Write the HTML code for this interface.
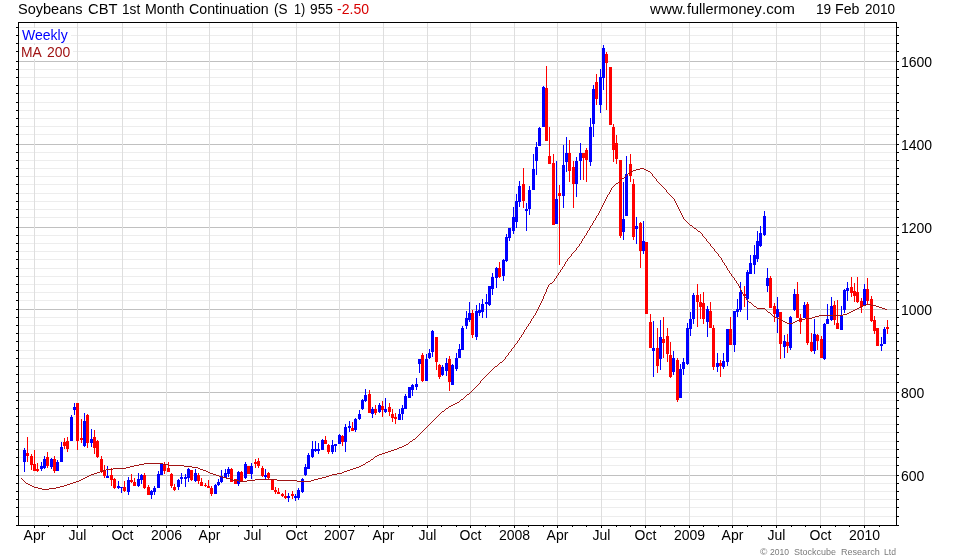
<!DOCTYPE html>
<html><head><meta charset="utf-8"><title>Soybeans CBT 1st Month Continuation</title>
<style>
html,body{margin:0;padding:0;background:#fff;}
body{width:980px;height:560px;position:relative;overflow:hidden;font-family:"Liberation Sans",Arial,sans-serif;font-size:14px;color:#000;}
.t{position:absolute;white-space:nowrap;line-height:16px;height:16px;}
.c{transform:translateX(-50%);}
svg{position:absolute;left:0;top:0;}
</style></head><body>
<svg width="980" height="560" viewBox="0 0 980 560" shape-rendering="crispEdges">
<path d="M19 27.5H896M19 35.5H896M19 43.5H896M19 51.5H896M19 69.5H896M19 77.5H896M19 85.5H896M19 93.5H896M19 102.5H896M19 110.5H896M19 118.5H896M19 126.5H896M19 134.5H896M19 152.5H896M19 160.5H896M19 168.5H896M19 176.5H896M19 184.5H896M19 193.5H896M19 201.5H896M19 209.5H896M19 217.5H896M19 235.5H896M19 243.5H896M19 251.5H896M19 259.5H896M19 268.5H896M19 276.5H896M19 284.5H896M19 292.5H896M19 300.5H896M19 317.5H896M19 325.5H896M19 333.5H896M19 341.5H896M19 350.5H896M19 358.5H896M19 366.5H896M19 374.5H896M19 382.5H896M19 400.5H896M19 408.5H896M19 416.5H896M19 424.5H896M19 432.5H896M19 441.5H896M19 449.5H896M19 457.5H896M19 465.5H896M19 483.5H896M19 491.5H896M19 499.5H896M19 507.5H896M19 516.5H896" stroke="#ededed" stroke-width="1" fill="none"/>
<path d="M19 61.5H896M19 144.5H896M19 227.5H896M19 309.5H896M19 392.5H896M19 475.5H896" stroke="#c0c0c0" stroke-width="1" fill="none"/>
<path d="M34.5 23V525M77.5 23V525M122.5 23V525M166.5 23V525M209.5 23V525M252.5 23V525M296.5 23V525M339.5 23V525M383.5 23V525M427.5 23V525M470.5 23V525M514.5 23V525M557.5 23V525M601.5 23V525M645.5 23V525M689.5 23V525M732.5 23V525M776.5 23V525M820.5 23V525M864.5 23V525" stroke="#dedede" stroke-width="1" fill="none"/>
<path d="M18.5 22V526M896.5 22V526M18 22.5H897M18 525.5H897" stroke="#000" stroke-width="1" fill="none"/>
<path d="M16 27.5H18M897 27.5H899M16 35.5H18M897 35.5H899M16 43.5H18M897 43.5H899M16 51.5H18M897 51.5H899M16 69.5H18M897 69.5H899M16 77.5H18M897 77.5H899M16 85.5H18M897 85.5H899M16 93.5H18M897 93.5H899M16 102.5H18M897 102.5H899M16 110.5H18M897 110.5H899M16 118.5H18M897 118.5H899M16 126.5H18M897 126.5H899M16 134.5H18M897 134.5H899M16 152.5H18M897 152.5H899M16 160.5H18M897 160.5H899M16 168.5H18M897 168.5H899M16 176.5H18M897 176.5H899M16 184.5H18M897 184.5H899M16 193.5H18M897 193.5H899M16 201.5H18M897 201.5H899M16 209.5H18M897 209.5H899M16 217.5H18M897 217.5H899M16 235.5H18M897 235.5H899M16 243.5H18M897 243.5H899M16 251.5H18M897 251.5H899M16 259.5H18M897 259.5H899M16 268.5H18M897 268.5H899M16 276.5H18M897 276.5H899M16 284.5H18M897 284.5H899M16 292.5H18M897 292.5H899M16 300.5H18M897 300.5H899M16 317.5H18M897 317.5H899M16 325.5H18M897 325.5H899M16 333.5H18M897 333.5H899M16 341.5H18M897 341.5H899M16 350.5H18M897 350.5H899M16 358.5H18M897 358.5H899M16 366.5H18M897 366.5H899M16 374.5H18M897 374.5H899M16 382.5H18M897 382.5H899M16 400.5H18M897 400.5H899M16 408.5H18M897 408.5H899M16 416.5H18M897 416.5H899M16 424.5H18M897 424.5H899M16 432.5H18M897 432.5H899M16 441.5H18M897 441.5H899M16 449.5H18M897 449.5H899M16 457.5H18M897 457.5H899M16 465.5H18M897 465.5H899M16 483.5H18M897 483.5H899M16 491.5H18M897 491.5H899M16 499.5H18M897 499.5H899M16 507.5H18M897 507.5H899M16 516.5H18M897 516.5H899M16 61.5H18M897 61.5H899M16 144.5H18M897 144.5H899M16 227.5H18M897 227.5H899M16 309.5H18M897 309.5H899M16 392.5H18M897 392.5H899M16 475.5H18M897 475.5H899M16 525.5H18M897 525.5H899M34.5 526V528M48.5 526V527M63.5 526V527M77.5 526V528M92.5 526V527M107.5 526V527M122.5 526V528M137.5 526V527M151.5 526V527M166.5 526V528M180.5 526V527M195.5 526V527M209.5 526V528M223.5 526V527M238.5 526V527M252.5 526V528M267.5 526V527M281.5 526V527M296.5 526V528M310.5 526V527M325.5 526V527M339.5 526V528M354.5 526V527M368.5 526V527M383.5 526V528M398.5 526V527M412.5 526V527M427.5 526V528M441.5 526V527M456.5 526V527M470.5 526V528M485.5 526V527M499.5 526V527M514.5 526V528M528.5 526V527M543.5 526V527M557.5 526V528M572.5 526V527M586.5 526V527M601.5 526V528M616.5 526V527M630.5 526V527M645.5 526V528M660.5 526V527M674.5 526V527M689.5 526V528M703.5 526V527M718.5 526V527M732.5 526V528M747.5 526V527M761.5 526V527M776.5 526V528M791.5 526V527M805.5 526V527M820.5 526V528M835.5 526V527M849.5 526V527M864.5 526V528M879.5 526V527" stroke="#000" stroke-width="1" fill="none"/>
<path d="M24 448h1V472h-1zM23 450h3V462h-3zM41 462h1V471h-1zM40 466h3V469h-3zM44 456h1V469h-1zM43 459h3V468h-3zM51 458h1V469h-1zM50 459h3V467h-3zM57 460h1V471h-1zM56 462h3V471h-3zM61 442h1V462h-1zM60 447h3V462h-3zM71 415h1V441h-1zM70 417h3V441h-3zM74 403h1V415h-1zM73 407h3V410h-3zM84 413h1V447h-1zM83 421h3V446h-3zM91 429h1V447h-1zM90 439h3V443h-3zM107 466h1V478h-1zM106 476h3V478h-3zM118 481h1V489h-1zM117 486h3V488h-3zM121 487h1V493h-1zM120 487h3V488h-3zM128 477h1V495h-1zM127 480h3V492h-3zM138 473h1V487h-1zM137 479h3V486h-3zM141 474h1V484h-1zM140 475h3V480h-3zM151 490h1V499h-1zM150 491h3V495h-3zM154 486h1V495h-1zM153 488h3V492h-3zM158 471h1V488h-1zM157 474h3V488h-3zM161 463h1V475h-1zM160 464h3V475h-3zM178 479h1V490h-1zM177 480h3V487h-3zM181 473h1V484h-1zM180 477h3V479h-3zM185 474h1V487h-1zM184 477h3V479h-3zM188 468h1V482h-1zM187 469h3V478h-3zM195 469h1V482h-1zM194 473h3V481h-3zM215 484h1V494h-1zM214 485h3V494h-3zM218 479h1V486h-1zM217 482h3V485h-3zM221 470h1V483h-1zM220 476h3V482h-3zM225 469h1V478h-1zM224 473h3V478h-3zM228 467h1V477h-1zM227 469h3V474h-3zM238 471h1V486h-1zM237 472h3V484h-3zM245 462h1V479h-1zM244 464h3V478h-3zM251 463h1V479h-1zM250 466h3V474h-3zM265 469h1V479h-1zM264 475h3V477h-3zM288 493h1V502h-1zM287 496h3V498h-3zM295 494h1V501h-1zM294 496h3V498h-3zM298 488h1V500h-1zM297 490h3V498h-3zM302 478h1V493h-1zM301 479h3V492h-3zM305 464h1V476h-1zM304 467h3V475h-3zM308 453h1V469h-1zM307 455h3V469h-3zM312 441h1V458h-1zM311 449h3V457h-3zM315 441h1V452h-1zM314 449h3V451h-3zM318 443h1V454h-1zM317 449h3V451h-3zM322 439h1V450h-1zM321 440h3V450h-3zM332 440h1V454h-1zM331 445h3V452h-3zM335 444h1V452h-1zM334 444h3V446h-3zM339 434h1V444h-1zM338 435h3V444h-3zM345 424h1V452h-1zM344 427h3V442h-3zM349 421h1V432h-1zM348 426h3V428h-3zM355 418h1V432h-1zM354 419h3V430h-3zM359 410h1V420h-1zM358 414h3V419h-3zM362 399h1V410h-1zM361 400h3V409h-3zM365 389h1V402h-1zM364 395h3V401h-3zM372 407h1V418h-1zM371 409h3V414h-3zM379 403h1V413h-1zM378 405h3V412h-3zM385 398h1V413h-1zM384 409h3V412h-3zM399 409h1V420h-1zM398 414h3V420h-3zM402 405h1V420h-1zM401 408h3V414h-3zM405 394h1V409h-1zM404 396h3V409h-3zM409 387h1V398h-1zM408 387h3V398h-3zM412 384h1V396h-1zM411 385h3V390h-3zM416 378h1V390h-1zM415 384h3V387h-3zM419 359h1V373h-1zM418 359h3V364h-3zM426 354h1V381h-1zM425 359h3V381h-3zM429 349h1V359h-1zM428 353h3V358h-3zM432 330h1V357h-1zM431 331h3V352h-3zM442 365h1V376h-1zM441 367h3V375h-3zM446 358h1V376h-1zM445 363h3V371h-3zM452 364h1V385h-1zM451 365h3V385h-3zM456 353h1V371h-1zM455 358h3V369h-3zM459 344h1V358h-1zM458 349h3V358h-3zM462 326h1V350h-1zM461 328h3V350h-3zM466 311h1V329h-1zM465 318h3V326h-3zM469 302h1V322h-1zM468 313h3V320h-3zM476 305h1V340h-1zM475 311h3V337h-3zM479 303h1V316h-1zM478 310h3V313h-3zM482 299h1V318h-1zM481 304h3V312h-3zM486 294h1V318h-1zM485 302h3V304h-3zM489 286h1V306h-1zM488 286h3V305h-3zM492 273h1V295h-1zM491 277h3V289h-3zM496 267h1V288h-1zM495 268h3V278h-3zM503 259h1V281h-1zM502 260h3V276h-3zM506 234h1V262h-1zM505 237h3V261h-3zM509 228h1V241h-1zM508 228h3V238h-3zM513 207h1V234h-1zM512 217h3V231h-3zM516 194h1V228h-1zM515 201h3V222h-3zM519 181h1V207h-1zM518 186h3V202h-3zM526 203h1V231h-1zM525 209h3V211h-3zM529 186h1V215h-1zM528 190h3V209h-3zM533 154h1V190h-1zM532 169h3V190h-3zM536 142h1V175h-1zM535 147h3V161h-3zM539 127h1V146h-1zM538 128h3V146h-3zM543 86h1V127h-1zM542 87h3V127h-3zM556 161h1V224h-1zM555 199h3V224h-3zM563 145h1V208h-1zM562 165h3V196h-3zM566 137h1V172h-1zM565 153h3V162h-3zM576 157h1V197h-1zM575 161h3V184h-3zM580 143h1V180h-1zM579 153h3V161h-3zM590 118h1V166h-1zM589 127h3V162h-3zM593 85h1V137h-1zM592 89h3V124h-3zM600 69h1V113h-1zM599 77h3V105h-3zM603 45h1V90h-1zM602 48h3V78h-3zM623 182h1V240h-1zM622 219h3V232h-3zM626 156h1V216h-1zM625 174h3V216h-3zM636 217h1V244h-1zM635 226h3V229h-3zM643 221h1V254h-1zM642 241h3V251h-3zM653 321h1V377h-1zM652 348h3V351h-3zM660 320h1V370h-1zM659 337h3V359h-3zM673 351h1V375h-1zM672 358h3V372h-3zM680 364h1V398h-1zM679 369h3V398h-3zM683 358h1V375h-1zM682 362h3V369h-3zM687 323h1V365h-1zM686 328h3V364h-3zM690 312h1V336h-1zM689 319h3V329h-3zM693 293h1V324h-1zM692 295h3V319h-3zM707 306h1V337h-1zM706 309h3V322h-3zM717 353h1V372h-1zM716 363h3V367h-3zM723 353h1V369h-1zM722 361h3V367h-3zM727 329h1V366h-1zM726 329h3V362h-3zM734 311h1V352h-1zM733 311h3V345h-3zM737 299h1V317h-1zM736 309h3V312h-3zM740 282h1V312h-1zM739 292h3V310h-3zM747 270h1V320h-1zM746 272h3V299h-3zM750 255h1V274h-1zM749 263h3V274h-3zM754 245h1V274h-1zM753 255h3V265h-3zM757 231h1V262h-1zM756 241h3V259h-3zM760 226h1V247h-1zM759 233h3V246h-3zM764 211h1V236h-1zM763 216h3V235h-3zM767 268h1V292h-1zM766 278h3V286h-3zM777 297h1V333h-1zM776 309h3V317h-3zM784 335h1V358h-1zM783 341h3V347h-3zM790 316h1V350h-1zM789 317h3V348h-3zM794 289h1V311h-1zM793 294h3V310h-3zM804 302h1V318h-1zM803 305h3V318h-3zM814 319h1V354h-1zM813 334h3V351h-3zM824 323h1V360h-1zM823 324h3V359h-3zM827 304h1V324h-1zM826 319h3V324h-3zM831 297h1V321h-1zM830 306h3V320h-3zM841 306h1V330h-1zM840 316h3V330h-3zM844 289h1V313h-1zM843 290h3V310h-3zM847 282h1V301h-1zM846 288h3V291h-3zM864 284h1V306h-1zM863 289h3V306h-3zM881 337h1V351h-1zM880 344h3V346h-3zM884 327h1V344h-1zM883 329h3V344h-3z" fill="#0000ff"/>
<path d="M27 437h1V462h-1zM26 453h3V456h-3zM31 454h1V470h-1zM30 456h3V465h-3zM34 450h1V471h-1zM33 464h3V471h-3zM37 463h1V472h-1zM36 469h3V471h-3zM47 452h1V468h-1zM46 457h3V466h-3zM54 456h1V473h-1zM53 459h3V471h-3zM64 438h1V449h-1zM63 442h3V446h-3zM67 437h1V452h-1zM66 441h3V449h-3zM77 403h1V450h-1zM76 403h3V441h-3zM81 419h1V443h-1zM80 438h3V440h-3zM87 414h1V448h-1zM86 415h3V443h-3zM94 430h1V454h-1zM93 437h3V448h-3zM97 440h1V458h-1zM96 441h3V457h-3zM101 456h1V473h-1zM100 459h3V471h-3zM104 465h1V478h-1zM103 470h3V476h-3zM111 468h1V486h-1zM110 475h3V480h-3zM114 478h1V489h-1zM113 479h3V488h-3zM124 481h1V492h-1zM123 487h3V491h-3zM131 474h1V483h-1zM130 480h3V482h-3zM134 478h1V486h-1zM133 482h3V486h-3zM144 473h1V489h-1zM143 475h3V488h-3zM148 485h1V495h-1zM147 487h3V495h-3zM164 462h1V474h-1zM163 464h3V471h-3zM168 462h1V472h-1zM167 468h3V472h-3zM171 473h1V488h-1zM170 474h3V486h-3zM174 484h1V491h-1zM173 487h3V490h-3zM191 470h1V481h-1zM190 470h3V480h-3zM198 473h1V484h-1zM197 475h3V481h-3zM201 478h1V486h-1zM200 482h3V486h-3zM205 483h1V487h-1zM204 485h3V486h-3zM208 480h1V488h-1zM207 486h3V488h-3zM211 486h1V496h-1zM210 488h3V494h-3zM231 468h1V482h-1zM230 469h3V482h-3zM235 479h1V484h-1zM234 479h3V484h-3zM241 471h1V482h-1zM240 472h3V481h-3zM248 466h1V474h-1zM247 466h3V474h-3zM255 459h1V468h-1zM254 462h3V464h-3zM258 458h1V468h-1zM257 461h3V466h-3zM262 466h1V477h-1zM261 468h3V476h-3zM268 472h1V480h-1zM267 473h3V478h-3zM272 480h1V490h-1zM271 480h3V490h-3zM275 487h1V494h-1zM274 490h3V492h-3zM278 488h1V494h-1zM277 492h3V494h-3zM282 493h1V497h-1zM281 494h3V496h-3zM285 490h1V499h-1zM284 496h3V498h-3zM292 491h1V499h-1zM291 494h3V496h-3zM325 436h1V444h-1zM324 440h3V444h-3zM328 444h1V454h-1zM327 445h3V452h-3zM342 435h1V446h-1zM341 436h3V442h-3zM352 422h1V431h-1zM351 428h3V431h-3zM369 390h1V413h-1zM368 394h3V413h-3zM375 405h1V415h-1zM374 409h3V413h-3zM382 401h1V417h-1zM381 406h3V410h-3zM389 403h1V416h-1zM388 407h3V412h-3zM392 409h1V422h-1zM391 414h3V418h-3zM395 413h1V424h-1zM394 417h3V419h-3zM422 353h1V382h-1zM421 355h3V381h-3zM436 337h1V370h-1zM435 337h3V362h-3zM439 364h1V379h-1zM438 365h3V377h-3zM449 356h1V391h-1zM448 359h3V382h-3zM472 310h1V338h-1zM471 313h3V335h-3zM499 262h1V278h-1zM498 268h3V277h-3zM523 168h1V208h-1zM522 184h3V201h-3zM546 66h1V141h-1zM545 88h3V141h-3zM549 127h1V164h-1zM548 156h3V164h-3zM553 154h1V225h-1zM552 163h3V225h-3zM559 185h1V265h-1zM558 193h3V196h-3zM569 140h1V182h-1zM568 153h3V171h-3zM573 161h1V208h-1zM572 167h3V184h-3zM583 153h1V180h-1zM582 153h3V158h-3zM586 148h1V182h-1zM585 150h3V160h-3zM596 74h1V105h-1zM595 82h3V99h-3zM606 52h1V110h-1zM605 54h3V63h-3zM610 67h1V125h-1zM609 67h3V125h-3zM613 124h1V162h-1zM612 127h3V150h-3zM616 135h1V164h-1zM615 143h3V159h-3zM620 160h1V238h-1zM619 160h3V236h-3zM630 154h1V182h-1zM629 164h3V176h-3zM633 179h1V240h-1zM632 184h3V237h-3zM640 222h1V268h-1zM639 223h3V251h-3zM646 242h1V314h-1zM645 242h3V314h-3zM650 314h1V348h-1zM649 322h3V348h-3zM657 328h1V373h-1zM656 348h3V366h-3zM663 317h1V358h-1zM662 339h3V343h-3zM667 328h1V362h-1zM666 336h3V354h-3zM670 342h1V378h-1zM669 355h3V377h-3zM677 358h1V402h-1zM676 360h3V400h-3zM697 284h1V327h-1zM696 295h3V302h-3zM700 294h1V319h-1zM699 302h3V307h-3zM703 292h1V324h-1zM702 303h3V319h-3zM710 302h1V328h-1zM709 311h3V328h-3zM713 325h1V370h-1zM712 328h3V367h-3zM720 360h1V377h-1zM719 363h3V366h-3zM730 317h1V345h-1zM729 329h3V345h-3zM744 286h1V307h-1zM743 294h3V296h-3zM770 276h1V308h-1zM769 278h3V308h-3zM774 303h1V322h-1zM773 306h3V314h-3zM780 312h1V359h-1zM779 312h3V344h-3zM787 334h1V353h-1zM786 342h3V346h-3zM797 282h1V318h-1zM796 294h3V318h-3zM800 314h1V334h-1zM799 318h3V322h-3zM807 302h1V345h-1zM806 304h3V343h-3zM811 333h1V352h-1zM810 342h3V351h-3zM817 334h1V350h-1zM816 335h3V341h-3zM821 336h1V358h-1zM820 339h3V358h-3zM834 301h1V325h-1zM833 305h3V320h-3zM837 300h1V329h-1zM836 323h3V329h-3zM851 277h1V297h-1zM850 287h3V293h-3zM854 283h1V302h-1zM853 291h3V296h-3zM857 277h1V303h-1zM856 292h3V302h-3zM861 298h1V313h-1zM860 301h3V307h-3zM867 278h1V304h-1zM866 289h3V301h-3zM871 296h1V322h-1zM870 299h3V321h-3zM874 316h1V334h-1zM873 320h3V331h-3zM877 328h1V346h-1zM876 328h3V346h-3zM887 320h1V334h-1zM886 327h3V329h-3z" fill="#ff0000"/>
<path d="M640 168h4v1h-4zM636 169h4v1h-4zM644 169h2v1h-2zM633 170h3v1h-3zM646 170h2v1h-2zM631 171h2v1h-2zM648 171h2v1h-2zM630 172h1v1h-1zM650 172h1v1h-1zM628 173h2v1h-2zM651 173h1v1h-1zM627 174h1v1h-1zM652 174h1v1h-1zM626 175h1v1h-1zM652 175h1v1h-1zM625 176h1v1h-1zM653 176h1v1h-1zM624 177h1v1h-1zM654 177h1v1h-1zM622 178h2v1h-2zM655 178h1v1h-1zM621 179h1v1h-1zM656 179h1v1h-1zM620 180h1v1h-1zM656 180h1v1h-1zM619 181h1v1h-1zM657 181h1v1h-1zM618 182h1v1h-1zM658 182h1v1h-1zM616 183h2v1h-2zM659 183h1v1h-1zM615 184h1v1h-1zM660 184h1v1h-1zM614 185h1v1h-1zM661 185h1v1h-1zM613 186h1v1h-1zM662 186h1v1h-1zM612 187h1v1h-1zM663 187h1v1h-1zM611 188h1v1h-1zM664 188h1v1h-1zM611 189h1v1h-1zM665 189h1v1h-1zM610 190h1v1h-1zM666 190h1v1h-1zM610 191h1v1h-1zM666 191h1v1h-1zM609 192h1v1h-1zM667 192h1v1h-1zM609 193h1v1h-1zM668 193h1v1h-1zM608 194h1v1h-1zM669 194h1v1h-1zM607 195h1v1h-1zM670 195h1v1h-1zM607 196h1v1h-1zM671 196h1v1h-1zM606 197h1v1h-1zM672 197h1v1h-1zM606 198h1v1h-1zM673 198h1v1h-1zM605 199h1v1h-1zM674 199h1v1h-1zM605 200h1v1h-1zM674 200h1v1h-1zM604 201h1v1h-1zM675 201h1v1h-1zM604 202h1v1h-1zM675 202h1v1h-1zM603 203h1v1h-1zM676 203h1v1h-1zM603 204h1v1h-1zM676 204h1v1h-1zM602 205h1v1h-1zM677 205h1v1h-1zM602 206h1v1h-1zM677 206h1v1h-1zM601 207h1v1h-1zM678 207h1v1h-1zM601 208h1v1h-1zM678 208h1v1h-1zM600 209h1v1h-1zM679 209h1v1h-1zM600 210h1v1h-1zM679 210h1v1h-1zM599 211h1v1h-1zM680 211h1v1h-1zM599 212h1v1h-1zM680 212h1v1h-1zM598 213h1v1h-1zM681 213h1v1h-1zM598 214h1v1h-1zM681 214h1v1h-1zM597 215h1v1h-1zM682 215h1v1h-1zM596 216h1v1h-1zM682 216h1v1h-1zM596 217h1v1h-1zM683 217h1v1h-1zM595 218h1v1h-1zM683 218h1v1h-1zM595 219h1v1h-1zM684 219h1v1h-1zM594 220h1v1h-1zM685 220h1v1h-1zM593 221h1v1h-1zM686 221h1v1h-1zM593 222h1v1h-1zM687 222h1v1h-1zM592 223h1v1h-1zM688 223h1v1h-1zM592 224h1v1h-1zM689 224h1v1h-1zM591 225h1v1h-1zM690 225h2v1h-2zM590 226h1v1h-1zM692 226h1v1h-1zM590 227h1v1h-1zM693 227h1v1h-1zM589 228h1v1h-1zM694 228h2v1h-2zM589 229h1v1h-1zM696 229h1v1h-1zM588 230h1v1h-1zM697 230h1v1h-1zM587 231h1v1h-1zM698 231h2v1h-2zM587 232h1v1h-1zM700 232h1v1h-1zM586 233h1v1h-1zM701 233h1v1h-1zM586 234h1v1h-1zM702 234h1v1h-1zM585 235h1v1h-1zM702 235h1v1h-1zM584 236h1v1h-1zM703 236h1v1h-1zM584 237h1v1h-1zM704 237h1v1h-1zM583 238h1v1h-1zM705 238h1v1h-1zM582 239h1v1h-1zM706 239h1v1h-1zM582 240h1v1h-1zM706 240h1v1h-1zM581 241h1v1h-1zM707 241h1v1h-1zM581 242h1v1h-1zM708 242h1v1h-1zM580 243h1v1h-1zM709 243h1v1h-1zM579 244h1v1h-1zM710 244h1v1h-1zM579 245h1v1h-1zM710 245h1v1h-1zM578 246h1v1h-1zM711 246h1v1h-1zM577 247h1v1h-1zM712 247h1v1h-1zM576 248h1v1h-1zM713 248h1v1h-1zM576 249h1v1h-1zM714 249h1v1h-1zM575 250h1v1h-1zM714 250h1v1h-1zM574 251h1v1h-1zM715 251h1v1h-1zM573 252h1v1h-1zM716 252h1v1h-1zM572 253h1v1h-1zM717 253h1v1h-1zM571 254h1v1h-1zM718 254h1v1h-1zM571 255h1v1h-1zM718 255h1v1h-1zM570 256h1v1h-1zM719 256h1v1h-1zM569 257h1v1h-1zM720 257h1v1h-1zM568 258h1v1h-1zM721 258h1v1h-1zM567 259h1v1h-1zM721 259h1v1h-1zM567 260h1v1h-1zM722 260h1v1h-1zM566 261h1v1h-1zM722 261h1v1h-1zM565 262h1v1h-1zM723 262h1v1h-1zM565 263h1v1h-1zM724 263h1v1h-1zM564 264h1v1h-1zM724 264h1v1h-1zM564 265h1v1h-1zM725 265h1v1h-1zM563 266h1v1h-1zM726 266h1v1h-1zM562 267h1v1h-1zM726 267h1v1h-1zM562 268h1v1h-1zM727 268h1v1h-1zM561 269h1v1h-1zM727 269h1v1h-1zM560 270h1v1h-1zM728 270h1v1h-1zM560 271h1v1h-1zM729 271h1v1h-1zM559 272h1v1h-1zM729 272h1v1h-1zM558 273h1v1h-1zM730 273h1v1h-1zM558 274h1v1h-1zM731 274h1v1h-1zM557 275h1v1h-1zM731 275h1v1h-1zM556 276h1v1h-1zM732 276h1v1h-1zM556 277h1v1h-1zM733 277h1v1h-1zM555 278h1v1h-1zM734 278h1v1h-1zM554 279h1v1h-1zM734 279h1v1h-1zM554 280h1v1h-1zM735 280h1v1h-1zM553 281h1v1h-1zM736 281h1v1h-1zM552 282h1v1h-1zM736 282h1v1h-1zM550 283h2v1h-2zM737 283h1v1h-1zM549 284h1v1h-1zM738 284h1v1h-1zM548 285h1v1h-1zM738 285h1v1h-1zM548 286h1v1h-1zM739 286h1v1h-1zM547 287h1v1h-1zM739 287h1v1h-1zM547 288h1v1h-1zM740 288h1v1h-1zM546 289h1v1h-1zM740 289h1v1h-1zM546 290h1v1h-1zM741 290h1v1h-1zM546 291h1v1h-1zM741 291h1v1h-1zM545 292h1v1h-1zM742 292h1v1h-1zM545 293h1v1h-1zM742 293h1v1h-1zM544 294h1v1h-1zM743 294h1v1h-1zM544 295h1v1h-1zM744 295h1v1h-1zM543 296h1v1h-1zM744 296h1v1h-1zM543 297h1v1h-1zM745 297h1v1h-1zM543 298h1v1h-1zM746 298h1v1h-1zM542 299h1v1h-1zM746 299h1v1h-1zM542 300h1v1h-1zM747 300h1v1h-1zM541 301h1v1h-1zM748 301h1v1h-1zM541 302h1v1h-1zM749 302h2v1h-2zM540 303h1v1h-1zM751 303h1v1h-1zM540 304h1v1h-1zM752 304h1v1h-1zM866 304h5v1h-5zM539 305h1v1h-1zM753 305h1v1h-1zM863 305h3v1h-3zM871 305h5v1h-5zM539 306h1v1h-1zM754 306h2v1h-2zM861 306h2v1h-2zM876 306h3v1h-3zM538 307h1v1h-1zM756 307h1v1h-1zM859 307h2v1h-2zM879 307h3v1h-3zM538 308h1v1h-1zM757 308h8v1h-8zM857 308h2v1h-2zM882 308h3v1h-3zM537 309h1v1h-1zM765 309h1v1h-1zM855 309h2v1h-2zM885 309h2v1h-2zM537 310h1v1h-1zM766 310h1v1h-1zM853 310h2v1h-2zM536 311h1v1h-1zM767 311h1v1h-1zM851 311h2v1h-2zM536 312h1v1h-1zM768 312h2v1h-2zM849 312h2v1h-2zM535 313h1v1h-1zM770 313h1v1h-1zM847 313h2v1h-2zM535 314h1v1h-1zM771 314h1v1h-1zM843 314h4v1h-4zM534 315h1v1h-1zM772 315h1v1h-1zM819 315h24v1h-24zM533 316h1v1h-1zM773 316h2v1h-2zM815 316h4v1h-4zM533 317h1v1h-1zM775 317h2v1h-2zM812 317h3v1h-3zM532 318h1v1h-1zM777 318h2v1h-2zM805 318h7v1h-7zM531 319h1v1h-1zM779 319h2v1h-2zM799 319h6v1h-6zM531 320h1v1h-1zM781 320h2v1h-2zM797 320h2v1h-2zM530 321h1v1h-1zM783 321h2v1h-2zM795 321h2v1h-2zM530 322h1v1h-1zM785 322h2v1h-2zM793 322h2v1h-2zM529 323h1v1h-1zM787 323h6v1h-6zM528 324h1v1h-1zM528 325h1v1h-1zM527 326h1v1h-1zM526 327h1v1h-1zM526 328h1v1h-1zM525 329h1v1h-1zM524 330h1v1h-1zM524 331h1v1h-1zM523 332h1v1h-1zM523 333h1v1h-1zM522 334h1v1h-1zM521 335h1v1h-1zM521 336h1v1h-1zM520 337h1v1h-1zM519 338h1v1h-1zM519 339h1v1h-1zM518 340h1v1h-1zM517 341h1v1h-1zM517 342h1v1h-1zM516 343h1v1h-1zM515 344h1v1h-1zM514 345h1v1h-1zM514 346h1v1h-1zM513 347h1v1h-1zM512 348h1v1h-1zM511 349h1v1h-1zM511 350h1v1h-1zM510 351h1v1h-1zM509 352h1v1h-1zM508 353h1v1h-1zM508 354h1v1h-1zM507 355h1v1h-1zM506 356h1v1h-1zM505 357h1v1h-1zM505 358h1v1h-1zM504 359h1v1h-1zM503 360h1v1h-1zM502 361h1v1h-1zM500 362h2v1h-2zM499 363h1v1h-1zM498 364h1v1h-1zM497 365h1v1h-1zM495 366h2v1h-2zM494 367h1v1h-1zM493 368h1v1h-1zM492 369h1v1h-1zM491 370h1v1h-1zM490 371h1v1h-1zM489 372h1v1h-1zM488 373h1v1h-1zM487 374h1v1h-1zM486 375h1v1h-1zM485 376h1v1h-1zM484 377h1v1h-1zM483 378h1v1h-1zM482 379h1v1h-1zM481 380h1v1h-1zM480 381h1v1h-1zM480 382h1v1h-1zM479 383h1v1h-1zM478 384h1v1h-1zM477 385h1v1h-1zM476 386h1v1h-1zM475 387h1v1h-1zM474 388h1v1h-1zM473 389h1v1h-1zM472 390h1v1h-1zM471 391h1v1h-1zM470 392h1v1h-1zM469 393h1v1h-1zM467 394h2v1h-2zM466 395h1v1h-1zM465 396h1v1h-1zM464 397h1v1h-1zM463 398h1v1h-1zM461 399h2v1h-2zM460 400h1v1h-1zM459 401h1v1h-1zM457 402h2v1h-2zM455 403h2v1h-2zM453 404h2v1h-2zM451 405h2v1h-2zM449 406h2v1h-2zM448 407h1v1h-1zM446 408h2v1h-2zM445 409h1v1h-1zM444 410h1v1h-1zM442 411h2v1h-2zM441 412h1v1h-1zM440 413h1v1h-1zM439 414h1v1h-1zM438 415h1v1h-1zM437 416h1v1h-1zM436 417h1v1h-1zM435 418h1v1h-1zM434 419h1v1h-1zM433 420h1v1h-1zM432 421h1v1h-1zM431 422h1v1h-1zM430 423h1v1h-1zM429 424h1v1h-1zM428 425h1v1h-1zM427 426h1v1h-1zM426 427h1v1h-1zM425 428h1v1h-1zM424 429h1v1h-1zM423 430h1v1h-1zM422 431h1v1h-1zM421 432h1v1h-1zM420 433h1v1h-1zM419 434h1v1h-1zM418 435h1v1h-1zM417 436h1v1h-1zM416 437h1v1h-1zM415 438h1v1h-1zM413 439h2v1h-2zM412 440h1v1h-1zM410 441h2v1h-2zM409 442h1v1h-1zM408 443h1v1h-1zM406 444h2v1h-2zM404 445h2v1h-2zM402 446h2v1h-2zM399 447h3v1h-3zM397 448h2v1h-2zM394 449h3v1h-3zM391 450h3v1h-3zM388 451h3v1h-3zM385 452h3v1h-3zM382 453h3v1h-3zM379 454h3v1h-3zM377 455h2v1h-2zM375 456h2v1h-2zM374 457h1v1h-1zM373 458h1v1h-1zM371 459h2v1h-2zM370 460h1v1h-1zM368 461h2v1h-2zM366 462h2v1h-2zM144 463h19v1h-19zM365 463h1v1h-1zM139 464h5v1h-5zM163 464h5v1h-5zM363 464h2v1h-2zM134 465h5v1h-5zM168 465h16v1h-16zM361 465h2v1h-2zM130 466h4v1h-4zM184 466h8v1h-8zM359 466h2v1h-2zM126 467h4v1h-4zM192 467h6v1h-6zM356 467h3v1h-3zM113 468h13v1h-13zM198 468h2v1h-2zM353 468h3v1h-3zM106 469h7v1h-7zM200 469h3v1h-3zM350 469h3v1h-3zM103 470h3v1h-3zM203 470h3v1h-3zM347 470h3v1h-3zM100 471h3v1h-3zM206 471h2v1h-2zM344 471h3v1h-3zM97 472h3v1h-3zM208 472h2v1h-2zM342 472h2v1h-2zM94 473h3v1h-3zM210 473h3v1h-3zM337 473h5v1h-5zM91 474h3v1h-3zM213 474h3v1h-3zM332 474h5v1h-5zM89 475h2v1h-2zM216 475h3v1h-3zM329 475h3v1h-3zM87 476h2v1h-2zM219 476h3v1h-3zM326 476h3v1h-3zM85 477h2v1h-2zM222 477h4v1h-4zM322 477h4v1h-4zM21 478h1v1h-1zM83 478h2v1h-2zM226 478h4v1h-4zM318 478h4v1h-4zM22 479h1v1h-1zM81 479h2v1h-2zM230 479h3v1h-3zM255 479h22v1h-22zM314 479h4v1h-4zM23 480h1v1h-1zM79 480h2v1h-2zM233 480h6v1h-6zM247 480h8v1h-8zM277 480h20v1h-20zM311 480h3v1h-3zM24 481h1v1h-1zM76 481h3v1h-3zM239 481h8v1h-8zM297 481h14v1h-14zM25 482h1v1h-1zM73 482h3v1h-3zM26 483h2v1h-2zM70 483h3v1h-3zM28 484h2v1h-2zM67 484h3v1h-3zM30 485h2v1h-2zM64 485h3v1h-3zM32 486h2v1h-2zM60 486h4v1h-4zM34 487h4v1h-4zM56 487h4v1h-4zM38 488h4v1h-4zM49 488h7v1h-7zM42 489h7v1h-7z" fill="#a01414"/>
</svg>
<div style="position:absolute;left:20px;top:28px;width:51px;height:15px;background:#fff"></div>
<div style="position:absolute;left:20px;top:45px;width:53px;height:14px;background:#fff"></div>
<div class="t " style="left:17.8px;top:1px;transform-origin:0 0;transform:scaleX(1.0369);">Soybeans</div>
<div class="t " style="left:87.5px;top:1px;transform-origin:0 0;transform:scaleX(1.0536);">CBT</div>
<div class="t " style="left:122px;top:1px;transform-origin:0 0;transform:scaleX(0.9722);">1st</div>
<div class="t " style="left:144.8px;top:1px;transform-origin:0 0;transform:scaleX(1.0135);">Month</div>
<div class="t " style="left:189.2px;top:1px;transform-origin:0 0;transform:scaleX(1.0135);">Continuation</div>
<div class="t " style="left:273.7px;top:1px;transform-origin:0 0;transform:scaleX(0.9643);">(S</div>
<div class="t " style="left:293.9px;top:1px;transform-origin:0 0;transform:scaleX(0.9000);">1)</div>
<div class="t " style="left:309.6px;top:1px;transform-origin:0 0;transform:scaleX(0.9826);">955</div>
<div class="t " style="left:336.9px;top:1px;transform-origin:0 0;transform:scaleX(1.0031);color:#d80000;">-2.50</div>
<div class="t " style="left:650.1px;top:1px;transform-origin:0 0;transform:scaleX(1.0758);">www.</div>
<div class="t " style="left:687.2px;top:1px;transform-origin:0 0;transform:scaleX(1.0319);">fullermoney</div>
<div class="t " style="left:761.5px;top:1px;transform-origin:0 0;transform:scaleX(1.0828);">.com</div>
<div class="t " style="left:815.8px;top:1px;transform-origin:0 0;transform:scaleX(0.9714);">19</div>
<div class="t " style="left:834.7px;top:1px;transform-origin:0 0;transform:scaleX(1.0130);">Feb</div>
<div class="t " style="left:865px;top:1px;transform-origin:0 0;transform:scaleX(0.9645);">2010</div>
<div class="t " style="left:21.9px;top:27px;transform-origin:0 0;transform:scaleX(1.0022);color:#0000ff;">Weekly</div>
<div class="t " style="left:21.2px;top:44px;transform-origin:0 0;transform:scaleX(0.9900);color:#a01414;">MA</div>
<div class="t " style="left:46.5px;top:44px;transform-origin:0 0;transform:scaleX(0.9957);color:#a01414;">200</div>
<div class="t" style="left:759.6px;top:545.5px;font-size:9.5px;line-height:12px;height:12px;color:#7a7a7a;transform-origin:0 0;transform:scaleX(1.0571);">&copy;</div>
<div class="t" style="left:770.2px;top:545.5px;font-size:9.5px;line-height:12px;height:12px;color:#7a7a7a;transform-origin:0 0;transform:scaleX(0.9000);">2010</div>
<div class="t" style="left:793.9px;top:545.5px;font-size:9.5px;line-height:12px;height:12px;color:#7a7a7a;transform-origin:0 0;transform:scaleX(0.9455);">Stockcube</div>
<div class="t" style="left:840.7px;top:545.5px;font-size:9.5px;line-height:12px;height:12px;color:#7a7a7a;transform-origin:0 0;transform:scaleX(0.9525);">Research</div>
<div class="t" style="left:883.7px;top:545.5px;font-size:9.5px;line-height:12px;height:12px;color:#7a7a7a;transform-origin:0 0;transform:scaleX(0.9000);">Ltd</div>
<div class="t " style="left:901px;top:54px;">1600</div>
<div class="t " style="left:901px;top:137px;">1400</div>
<div class="t " style="left:901px;top:220px;">1200</div>
<div class="t " style="left:901px;top:302px;">1000</div>
<div class="t " style="left:901px;top:385px;">800</div>
<div class="t " style="left:901px;top:468px;">600</div>
<div class="t c" style="left:34.5px;top:527px;">Apr</div>
<div class="t c" style="left:77.5px;top:527px;">Jul</div>
<div class="t c" style="left:122.5px;top:527px;">Oct</div>
<div class="t c" style="left:166.5px;top:527px;">2006</div>
<div class="t c" style="left:209.5px;top:527px;">Apr</div>
<div class="t c" style="left:252.5px;top:527px;">Jul</div>
<div class="t c" style="left:296.5px;top:527px;">Oct</div>
<div class="t c" style="left:339.5px;top:527px;">2007</div>
<div class="t c" style="left:383.5px;top:527px;">Apr</div>
<div class="t c" style="left:427.5px;top:527px;">Jul</div>
<div class="t c" style="left:470.5px;top:527px;">Oct</div>
<div class="t c" style="left:514.5px;top:527px;">2008</div>
<div class="t c" style="left:557.5px;top:527px;">Apr</div>
<div class="t c" style="left:601.5px;top:527px;">Jul</div>
<div class="t c" style="left:645.5px;top:527px;">Oct</div>
<div class="t c" style="left:689.5px;top:527px;">2009</div>
<div class="t c" style="left:732.5px;top:527px;">Apr</div>
<div class="t c" style="left:776.5px;top:527px;">Jul</div>
<div class="t c" style="left:820.5px;top:527px;">Oct</div>
<div class="t c" style="left:864.5px;top:527px;">2010</div>
</body></html>
